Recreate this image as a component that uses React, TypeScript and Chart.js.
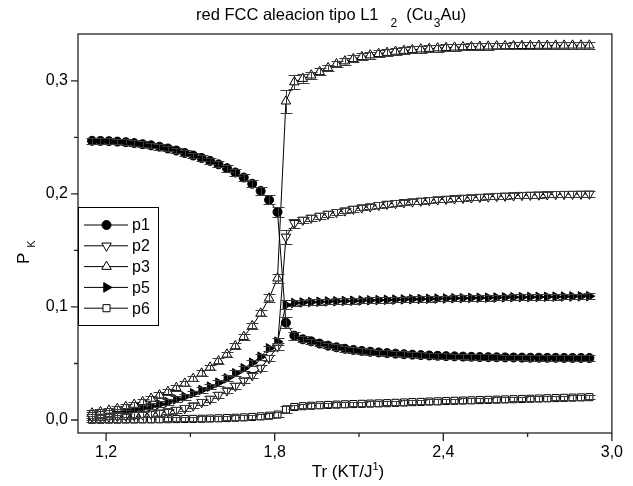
import React, { useEffect, useRef } from 'react';
import { Chart, registerables } from 'chart.js';

Chart.register(...registerables);

// ---------------- data ----------------
const tr = [
  1.15, 1.18, 1.21, 1.24, 1.27, 1.30, 1.33, 1.36, 1.39, 1.42,
  1.45, 1.48, 1.51, 1.54, 1.57, 1.60, 1.63, 1.66, 1.69, 1.72,
  1.75, 1.78, 1.81, 1.84, 1.87, 1.90, 1.93, 1.96, 1.99, 2.02,
  2.05, 2.08, 2.11, 2.14, 2.17, 2.20, 2.23, 2.26, 2.29, 2.32,
  2.35, 2.38, 2.41, 2.44, 2.47, 2.50, 2.53, 2.56, 2.59, 2.62,
  2.65, 2.68, 2.71, 2.74, 2.77, 2.80, 2.83, 2.86, 2.89, 2.92,
];

const p1 = [
  0.2470, 0.2469, 0.2467, 0.2463, 0.2458, 0.2450, 0.2440, 0.2430, 0.2418, 0.2402,
  0.2384, 0.2362, 0.2340, 0.2318, 0.2292, 0.2262, 0.2228, 0.2190, 0.2145, 0.2090,
  0.2027, 0.1947, 0.1840, 0.0861, 0.0746, 0.0714, 0.0696, 0.0676, 0.0658, 0.0643,
  0.0630, 0.0620, 0.0611, 0.0604, 0.0598, 0.0592, 0.0587, 0.0582, 0.0578, 0.0574,
  0.0571, 0.0568, 0.0565, 0.0563, 0.0561, 0.0559, 0.0557, 0.0556, 0.0555, 0.0554,
  0.0553, 0.0552, 0.0551, 0.0551, 0.0550, 0.0550, 0.0549, 0.0549, 0.0549, 0.0548,
];

const p2 = [
  0.0025, 0.0027, 0.0030, 0.0033, 0.0037, 0.0042, 0.0048, 0.0055, 0.0064, 0.0075,
  0.0088, 0.0104, 0.0127, 0.0157, 0.0186, 0.0221, 0.0260, 0.0301, 0.0348, 0.0395,
  0.0460, 0.0546, 0.0649, 0.1620, 0.1740, 0.1770, 0.1788, 0.1805, 0.1823, 0.1838,
  0.1852, 0.1867, 0.1879, 0.1888, 0.1900, 0.1911, 0.1918, 0.1925, 0.1932, 0.1938,
  0.1944, 0.1950, 0.1955, 0.1960, 0.1964, 0.1968, 0.1972, 0.1976, 0.1980, 0.1983,
  0.1986, 0.1989, 0.1991, 0.1993, 0.1995, 0.1997, 0.1998, 0.1999, 0.2000, 0.2001,
];

const p3 = [
  0.0060, 0.0072, 0.0085, 0.0100, 0.0117, 0.0137, 0.0160, 0.0190, 0.0220, 0.0250,
  0.0286, 0.0324, 0.0366, 0.0413, 0.0466, 0.0522, 0.0581, 0.0655, 0.0737, 0.0832,
  0.0944, 0.1077, 0.1254, 0.2820, 0.2990, 0.3020, 0.3050, 0.3080, 0.3115, 0.3150,
  0.3175, 0.3195, 0.3213, 0.3228, 0.3240, 0.3250, 0.3260, 0.3268, 0.3275, 0.3281,
  0.3286, 0.3290, 0.3294, 0.3297, 0.3300, 0.3302, 0.3304, 0.3306, 0.3308, 0.3309,
  0.3310, 0.3311, 0.3312, 0.3313, 0.3313, 0.3314, 0.3314, 0.3315, 0.3315, 0.3315,
];

const p5 = [
  0.0045, 0.0052, 0.0060, 0.0069, 0.0080, 0.0092, 0.0106, 0.0122, 0.0140, 0.0158,
  0.0183, 0.0206, 0.0236, 0.0265, 0.0295, 0.0330, 0.0369, 0.0413, 0.0457, 0.0507,
  0.0560, 0.0634, 0.0693, 0.1018, 0.1035, 0.1040, 0.1043, 0.1046, 0.1049, 0.1051,
  0.1053, 0.1055, 0.1057, 0.1059, 0.1061, 0.1063, 0.1065, 0.1067, 0.1069, 0.1071,
  0.1072, 0.1074, 0.1075, 0.1077, 0.1078, 0.1080, 0.1081, 0.1082, 0.1083, 0.1085,
  0.1086, 0.1087, 0.1088, 0.1089, 0.1090, 0.1091, 0.1092, 0.1093, 0.1094, 0.1095,
];

const p6 = [
  0.0002, 0.0002, 0.0003, 0.0003, 0.0004, 0.0004, 0.0005, 0.0005, 0.0006, 0.0007,
  0.0008, 0.0009, 0.0010, 0.0011, 0.0013, 0.0015, 0.0017, 0.0020, 0.0023, 0.0027,
  0.0032, 0.0038, 0.0048, 0.0094, 0.0115, 0.0122, 0.0126, 0.0130, 0.0133, 0.0136,
  0.0139, 0.0141, 0.0143, 0.0145, 0.0147, 0.0149, 0.0152, 0.0155, 0.0158, 0.0160,
  0.0163, 0.0165, 0.0168, 0.0170, 0.0172, 0.0174, 0.0176, 0.0178, 0.0180, 0.0182,
  0.0184, 0.0186, 0.0188, 0.0190, 0.0192, 0.0194, 0.0196, 0.0198, 0.0200, 0.0202,
];

// error bars (half-widths)
const errP1 = [
  0.0025, 0.0025, 0.0025, 0.0025, 0.0025, 0.0025, 0.0025, 0.0025, 0.0025, 0.0025,
  0.0025, 0.0025, 0.0025, 0.0025, 0.0025, 0.0025, 0.0030, 0.0030, 0.0030, 0.0030,
  0.0035, 0.0040, 0.0045, 0.0050, 0.0035, 0.0025, 0.0025, 0.0025, 0.0025, 0.0025,
  0.0025, 0.0025, 0.0025, 0.0025, 0.0025, 0.0025, 0.0025, 0.0025, 0.0025, 0.0025,
  0.0025, 0.0025, 0.0025, 0.0025, 0.0025, 0.0025, 0.0025, 0.0025, 0.0025, 0.0025,
  0.0025, 0.0025, 0.0025, 0.0025, 0.0025, 0.0025, 0.0025, 0.0025, 0.0025, 0.0025,
];
const errP2 = [
  0.0025, 0.0025, 0.0025, 0.0025, 0.0025, 0.0025, 0.0025, 0.0025, 0.0025, 0.0025,
  0.0025, 0.0025, 0.0025, 0.0025, 0.0025, 0.0025, 0.0025, 0.0025, 0.0025, 0.0025,
  0.0025, 0.0025, 0.0030, 0.0060, 0.0040, 0.0025, 0.0025, 0.0025, 0.0025, 0.0025,
  0.0025, 0.0025, 0.0025, 0.0025, 0.0025, 0.0025, 0.0025, 0.0025, 0.0025, 0.0025,
  0.0025, 0.0025, 0.0025, 0.0025, 0.0025, 0.0025, 0.0025, 0.0025, 0.0025, 0.0025,
  0.0025, 0.0025, 0.0025, 0.0025, 0.0025, 0.0025, 0.0025, 0.0025, 0.0025, 0.0025,
];
const errP3 = [
  0.0025, 0.0025, 0.0025, 0.0025, 0.0025, 0.0025, 0.0025, 0.0025, 0.0025, 0.0025,
  0.0025, 0.0025, 0.0025, 0.0025, 0.0025, 0.0025, 0.0025, 0.0025, 0.0025, 0.0025,
  0.0025, 0.0035, 0.0040, 0.0100, 0.0060, 0.0040, 0.0030, 0.0030, 0.0030, 0.0030,
  0.0030, 0.0030, 0.0030, 0.0030, 0.0030, 0.0030, 0.0030, 0.0030, 0.0030, 0.0030,
  0.0030, 0.0030, 0.0030, 0.0030, 0.0030, 0.0030, 0.0030, 0.0030, 0.0030, 0.0030,
  0.0030, 0.0030, 0.0030, 0.0030, 0.0030, 0.0030, 0.0030, 0.0030, 0.0030, 0.0030,
];
const errP5 = [
  0.0025, 0.0025, 0.0025, 0.0025, 0.0025, 0.0025, 0.0025, 0.0025, 0.0025, 0.0025,
  0.0025, 0.0025, 0.0025, 0.0025, 0.0025, 0.0025, 0.0025, 0.0025, 0.0025, 0.0025,
  0.0025, 0.0025, 0.0030, 0.0040, 0.0025, 0.0025, 0.0025, 0.0025, 0.0025, 0.0025,
  0.0025, 0.0025, 0.0025, 0.0025, 0.0025, 0.0025, 0.0025, 0.0025, 0.0025, 0.0025,
  0.0025, 0.0025, 0.0025, 0.0025, 0.0025, 0.0025, 0.0025, 0.0025, 0.0025, 0.0025,
  0.0025, 0.0025, 0.0025, 0.0025, 0.0025, 0.0025, 0.0025, 0.0025, 0.0025, 0.0025,
];
const errP6 = [
  0.0020, 0.0020, 0.0020, 0.0020, 0.0020, 0.0020, 0.0020, 0.0020, 0.0020, 0.0020,
  0.0020, 0.0020, 0.0020, 0.0020, 0.0020, 0.0020, 0.0020, 0.0020, 0.0020, 0.0020,
  0.0020, 0.0020, 0.0020, 0.0030, 0.0020, 0.0020, 0.0020, 0.0020, 0.0020, 0.0020,
  0.0020, 0.0020, 0.0020, 0.0020, 0.0020, 0.0020, 0.0020, 0.0020, 0.0020, 0.0020,
  0.0020, 0.0020, 0.0020, 0.0020, 0.0020, 0.0020, 0.0020, 0.0020, 0.0020, 0.0020,
  0.0020, 0.0020, 0.0020, 0.0020, 0.0020, 0.0020, 0.0020, 0.0020, 0.0020, 0.0020,
];

const seriesLabels = ['p1', 'p2', 'p3', 'p5', 'p6'];
const xMajorTicks = [1.2, 1.8, 2.4, 3.0];
const xMinorTicks = [1.5, 2.1, 2.7];
const yMajorTicks = [0.0, 0.1, 0.2, 0.3];
const yMinorTicks = [0.05, 0.15, 0.25];

// ---------------- styling ----------------
const FONT = '"Liberation Sans", Arial, Helvetica, sans-serif';

type Marker = { style: 'circle' | 'triangle' | 'rect'; rotation: number; filled: boolean; radius: number };
const markerSpecs: Marker[] = [
  { style: 'circle', rotation: 0, filled: true, radius: 4.5 },
  { style: 'triangle', rotation: 180, filled: false, radius: 5.5 },
  { style: 'triangle', rotation: 0, filled: false, radius: 5.5 },
  { style: 'triangle', rotation: 90, filled: true, radius: 5.5 },
  { style: 'rect', rotation: 0, filled: false, radius: 5 },
];

const seriesValues = [p1, p2, p3, p5, p6];
const seriesErrors = [errP1, errP2, errP3, errP5, errP6];

function fmt(v: number) {
  return v.toFixed(1).replace('.', ',');
}

function drawMarker(ctx: CanvasRenderingContext2D, m: Marker, x: number, y: number) {
  ctx.save();
  ctx.beginPath();
  const r = m.radius;
  if (m.style === 'circle') {
    ctx.arc(x, y, r, 0, Math.PI * 2);
  } else if (m.style === 'triangle') {
    let rad = (m.rotation * Math.PI) / 180;
    ctx.moveTo(x + Math.sin(rad) * r, y - Math.cos(rad) * r);
    rad += (2 * Math.PI) / 3;
    ctx.lineTo(x + Math.sin(rad) * r, y - Math.cos(rad) * r);
    rad += (2 * Math.PI) / 3;
    ctx.lineTo(x + Math.sin(rad) * r, y - Math.cos(rad) * r);
    ctx.closePath();
  } else {
    const s = Math.SQRT1_2 * r;
    ctx.rect(x - s, y - s, 2 * s, 2 * s);
  }
  ctx.fillStyle = m.filled ? '#000' : '#fff';
  ctx.fill();
  ctx.strokeStyle = '#000';
  ctx.lineWidth = 1;
  ctx.stroke();
  ctx.restore();
}

type Seg = { text: string; size: number; dy: number; gap?: number };
function drawRich(ctx: CanvasRenderingContext2D, segs: Seg[], x: number, y: number, align: 'left' | 'center') {
  ctx.save();
  ctx.textBaseline = 'alphabetic';
  ctx.textAlign = 'left';
  ctx.fillStyle = '#000';
  let total = 0;
  const widths = segs.map((s) => {
    ctx.font = `${s.size}px ${FONT}`;
    const w = ctx.measureText(s.text).width;
    total += w + (s.gap || 0);
    return w;
  });
  let cx = align === 'center' ? x - total / 2 : x;
  segs.forEach((s, i) => {
    cx += s.gap || 0;
    ctx.font = `${s.size}px ${FONT}`;
    ctx.fillText(s.text, cx, y + s.dy);
    cx += widths[i];
  });
  ctx.restore();
}

const decorPlugin = {
  id: 'decor',
  beforeDraw(chart: any) {
    const ctx = chart.ctx as CanvasRenderingContext2D;
    ctx.save();
    ctx.fillStyle = '#fff';
    ctx.fillRect(0, 0, chart.width, chart.height);
    ctx.restore();
  },
  afterDatasetsDraw(chart: any) {
    const ctx = chart.ctx as CanvasRenderingContext2D;
    const xs = chart.scales.x;
    const ys = chart.scales.y;
    ctx.save();
    ctx.strokeStyle = '#3a3a3a';
    ctx.lineWidth = 1;
    seriesValues.forEach((vals, si) => {
      const errs = seriesErrors[si];
      vals.forEach((v, k) => {
        const e = errs[k];
        const px = Math.round(xs.getPixelForValue(tr[k])) + 0.5;
        const top = Math.round(ys.getPixelForValue(v + e)) + 0.5;
        const bot = Math.round(ys.getPixelForValue(v - e)) + 0.5;
        ctx.beginPath();
        ctx.moveTo(px, top);
        ctx.lineTo(px, bot);
        ctx.moveTo(px - 6, top);
        ctx.lineTo(px + 6, top);
        ctx.moveTo(px - 6, bot);
        ctx.lineTo(px + 6, bot);
        ctx.stroke();
      });
    });
    ctx.restore();
  },
  afterDraw(chart: any) {
    const ctx = chart.ctx as CanvasRenderingContext2D;
    const { left, right, top, bottom } = chart.chartArea;
    const xs = chart.scales.x;
    const ys = chart.scales.y;
    ctx.save();
    // frame
    ctx.strokeStyle = '#222';
    ctx.lineWidth = 1.3;
    ctx.strokeRect(left, top, right - left, bottom - top);
    // ticks
    ctx.beginPath();
    xMajorTicks.forEach((v) => {
      const px = xs.getPixelForValue(v);
      ctx.moveTo(px, bottom);
      ctx.lineTo(px, bottom + 8);
    });
    xMinorTicks.forEach((v) => {
      const px = xs.getPixelForValue(v);
      ctx.moveTo(px, bottom);
      ctx.lineTo(px, bottom + 4);
    });
    yMajorTicks.forEach((v) => {
      const py = ys.getPixelForValue(v);
      ctx.moveTo(left, py);
      ctx.lineTo(left - 7, py);
    });
    yMinorTicks.forEach((v) => {
      const py = ys.getPixelForValue(v);
      ctx.moveTo(left, py);
      ctx.lineTo(left - 4, py);
    });
    ctx.stroke();

    // legend
    const lx = left;
    const ly = 207;
    const lw = 80;
    const lh = 118;
    ctx.fillStyle = '#fff';
    ctx.fillRect(lx, ly, lw, lh);
    ctx.strokeStyle = '#000';
    ctx.lineWidth = 1;
    ctx.strokeRect(lx + 0.5, ly + 0.5, lw, lh);
    seriesLabels.forEach((lab, i) => {
      const cy = 225 + i * 20.8;
      ctx.beginPath();
      ctx.strokeStyle = '#000';
      ctx.lineWidth = 1;
      ctx.moveTo(lx + 6, cy);
      ctx.lineTo(lx + 50, cy);
      ctx.stroke();
      drawMarker(ctx, markerSpecs[i], lx + 28.5, cy);
      ctx.fillStyle = '#000';
      ctx.font = `16px ${FONT}`;
      ctx.textBaseline = 'middle';
      ctx.textAlign = 'left';
      ctx.fillText(lab, lx + 54, cy + 1);
    });
    ctx.restore();

    // title
    drawRich(
      ctx,
      [
        { text: 'red FCC aleacion tipo L1', size: 16.5, dy: 0 },
        { text: '2', size: 12, dy: 7, gap: 12 },
        { text: '(Cu', size: 16.5, dy: 0, gap: 9 },
        { text: '3', size: 12, dy: 7, gap: 1 },
        { text: 'Au)', size: 16.5, dy: 0 },
      ],
      196,
      20,
      'left'
    );

    // x-axis title
    drawRich(
      ctx,
      [
        { text: 'Tr (KT/J', size: 17, dy: 0 },
        { text: '1', size: 11, dy: -7 },
        { text: ')', size: 17, dy: 0 },
      ],
      (left + right) / 2 + 3,
      477,
      'center'
    );

    // y-axis title (rotated)
    ctx.save();
    ctx.translate(29, 264);
    ctx.rotate(-Math.PI / 2);
    drawRich(
      ctx,
      [
        { text: 'P', size: 17, dy: 0 },
        { text: 'K', size: 11, dy: 6, gap: 5 },
      ],
      0,
      0,
      'left'
    );
    ctx.restore();
  },
};

export default function App() {
  const canvasRef = useRef<HTMLCanvasElement | null>(null);

  useEffect(() => {
    const canvas = canvasRef.current;
    if (!canvas) return;
    const datasets = seriesValues.map((vals, i) => {
      const m = markerSpecs[i];
      return {
        label: seriesLabels[i],
        data: vals.map((v, k) => ({ x: tr[k], y: v })),
        showLine: true,
        borderColor: '#000',
        borderWidth: 1,
        tension: 0,
        pointStyle: m.style,
        rotation: m.rotation,
        pointRadius: m.radius,
        pointHoverRadius: m.radius,
        pointBackgroundColor: m.filled ? '#000' : '#fff',
        pointBorderColor: '#000',
        pointBorderWidth: 1,
      };
    });

    const chart = new Chart(canvas, {
      type: 'scatter',
      data: { datasets: datasets as any },
      options: {
        animation: false,
        responsive: false,
        devicePixelRatio: 1,
        layout: { padding: { top: 34, right: 12, left: 0, bottom: 0 } },
        plugins: {
          legend: { display: false },
          title: { display: false },
          tooltip: { enabled: false },
        },
        scales: {
          x: {
            type: 'linear',
            min: 1.1,
            max: 3.0,
            afterBuildTicks: (s: any) => {
              s.ticks = xMajorTicks.map((v) => ({ value: v }));
            },
            afterFit: (s: any) => {
              s.height = 53;
            },
            grid: { display: false, drawTicks: false },
            border: { display: false },
            ticks: {
              padding: 10,
              color: '#000',
              autoSkip: false,
              maxRotation: 0,
              font: { family: FONT, size: 16 },
              callback: (v: any) => fmt(Number(v)),
            },
          },
          y: {
            type: 'linear',
            min: -0.0115,
            max: 0.3415,
            afterBuildTicks: (s: any) => {
              s.ticks = yMajorTicks.map((v) => ({ value: v }));
            },
            afterFit: (s: any) => {
              s.width = 78;
            },
            grid: { display: false, drawTicks: false },
            border: { display: false },
            ticks: {
              padding: 10,
              color: '#000',
              autoSkip: false,
              font: { family: FONT, size: 16 },
              callback: (v: any) => fmt(Number(v)),
            },
          },
        },
      },
      plugins: [decorPlugin],
    });
    return () => chart.destroy();
  }, []);

  return (
    <div style={{ position: 'fixed', left: 0, top: 0, width: 633, height: 486, background: '#fff' }}>
      <canvas ref={canvasRef} width={633} height={486} style={{ width: 633, height: 486, display: 'block' }} />
    </div>
  );
}
